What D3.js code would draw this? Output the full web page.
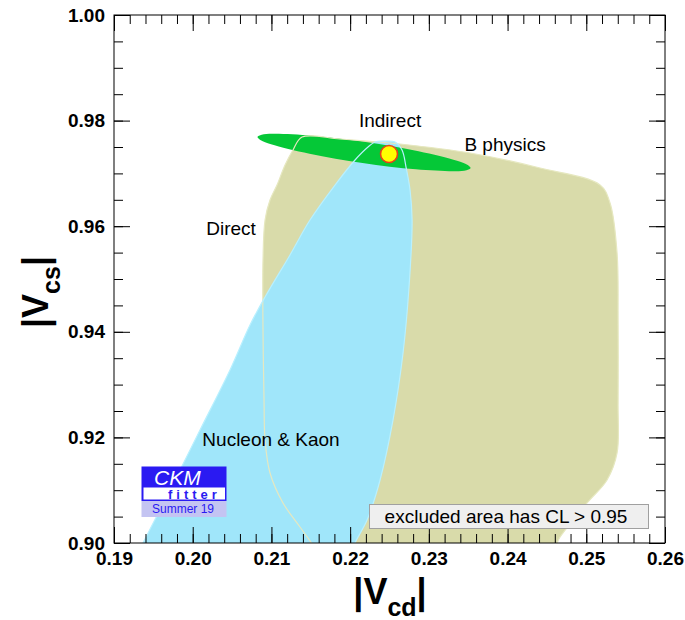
<!DOCTYPE html>
<html>
<head>
<meta charset="utf-8">
<script src="https://cdn.jsdelivr.net/npm/d3@7"></script>
<style>
  html, body { margin: 0; padding: 0; background: #fff; }
  svg { display: block; font-family: "Liberation Sans", Arial, Helvetica, sans-serif; }
</style>
</head>
<body>
<svg id="chart" width="685" height="620"></svg>
<script>
// Axis ticks
const xMajorTicks = [0.19, 0.20, 0.21, 0.22, 0.23, 0.24, 0.25, 0.26];
const yMajorTicks = [0.90, 0.92, 0.94, 0.96, 0.98, 1.00];

// 95% CL contours in the (|Vcd|, |Vcs|) plane
const bPhysics = [
  [0.21389, 0.97689], [0.21872, 0.97652], [0.22634, 0.97557], [0.23524, 0.97386],
  [0.24413, 0.97102], [0.25175, 0.96780], [0.25302, 0.96439], [0.25391, 0.95492],
  [0.25404, 0.94223], [0.25404, 0.92652], [0.25391, 0.91705], [0.25264, 0.91193],
  [0.25010, 0.90758], [0.24667, 0.90114], [0.24540, 0.89800], [0.21592, 0.89800],
  [0.21500, 0.90019], [0.21363, 0.90303], [0.21147, 0.90758], [0.20982, 0.91326],
  [0.20919, 0.91951], [0.20906, 0.92708], [0.20893, 0.94034], [0.20893, 0.95360],
  [0.20919, 0.96117], [0.20982, 0.96496], [0.21071, 0.96780], [0.21173, 0.97159],
  [0.21274, 0.97443]
];

const nucleonKaon = [
  [0.19300, 0.89800], [0.19368, 0.90000], [0.19712, 0.91004], [0.20093, 0.92140],
  [0.20474, 0.93277], [0.20728, 0.94129], [0.20919, 0.94659], [0.21236, 0.95455],
  [0.21490, 0.96117], [0.21808, 0.96780], [0.22062, 0.97254], [0.22227, 0.97500],
  [0.22316, 0.97595], [0.22443, 0.97610], [0.22570, 0.97595], [0.22659, 0.97443],
  [0.22710, 0.97121], [0.22761, 0.96686], [0.22787, 0.96117], [0.22748, 0.94848],
  [0.22672, 0.93598], [0.22545, 0.92330], [0.22380, 0.91193], [0.22215, 0.90436],
  [0.22062, 0.90000], [0.22020, 0.89800]
];

const indirect = [
  [0.20823, 0.97689], [0.20876, 0.97731], [0.21015, 0.97750], [0.21517, 0.97714],
  [0.22196, 0.97593], [0.22869, 0.97419], [0.23358, 0.97239], [0.23488, 0.97163],
  [0.23530, 0.97102], [0.23478, 0.97061], [0.23338, 0.97042], [0.22836, 0.97078],
  [0.22158, 0.97199], [0.21484, 0.97373], [0.20995, 0.97553], [0.20865, 0.97629]
];

const bestFit = [0.22494, 0.97367];

const regionLabels = [
  { text: "Indirect", x: 0.22507, y: 0.97879 },
  { text: "B physics", x: 0.23968, y: 0.97424 },
  { text: "Direct", x: 0.20487, y: 0.95833 },
  { text: "Nucleon & Kaon", x: 0.20995, y: 0.91837 }
];

const legendText = "excluded area has CL > 0.95";

const svg = d3.select("#chart");
const x = d3.scaleLinear().domain([0.19, 0.26]).range([114, 665]);
const y = d3.scaleLinear().domain([0.90, 1.00]).range([543, 15]);

const xMinorTicks = d3.range(0, 36).map(i => +(0.19 + i * 0.002).toFixed(4));
const yMinorTicks = d3.range(0, 21).map(i => +(0.90 + i * 0.005).toFixed(4));

svg.append("defs").append("clipPath").attr("id", "plot-clip")
  .append("rect").attr("x", 114).attr("y", 15).attr("width", 551).attr("height", 528);

const area = svg.append("g").attr("clip-path", "url(#plot-clip)");
const line = d3.line().x(d => x(d[0])).y(d => y(d[1])).curve(d3.curveCatmullRomClosed.alpha(0.5));

// Filled regions
area.append("path").attr("d", line(bPhysics)).attr("fill", "#d9dbaa");
area.append("path").attr("d", line(nucleonKaon)).attr("fill", "#a0e6fa");
area.append("path").attr("d", line(indirect)).attr("fill", "#05c837");

// Contour outlines drawn over the fills
area.append("path").attr("d", line(bPhysics)).attr("fill", "none")
  .attr("stroke", "#e6e8c0").attr("stroke-width", 1.2);
area.append("path").attr("d", line(nucleonKaon)).attr("fill", "none")
  .attr("stroke", "#b8f0ff").attr("stroke-width", 1.2);

// Global fit point
area.append("circle")
  .attr("cx", x(bestFit[0])).attr("cy", y(bestFit[1])).attr("r", 8.5)
  .attr("fill", "#ffff00").attr("stroke", "#e8401a").attr("stroke-width", 1.6);

// Region labels
svg.append("g").selectAll("text").data(regionLabels).join("text")
  .attr("x", d => x(d.x)).attr("y", d => y(d.y))
  .attr("text-anchor", "middle").attr("font-size", 19).attr("fill", "#000")
  .text(d => d.text);

// Axes: ticks point inward on all four sides
function styleAxis(g) {
  g.select(".domain").remove();
  g.selectAll("line").attr("stroke", "#000").attr("stroke-width", 1);
}
const fmt = d3.format(".2f");

svg.append("g").attr("transform", "translate(0,543)")
  .call(d3.axisBottom(x).tickValues(xMinorTicks).tickSize(-9).tickFormat(""))
  .call(styleAxis);
svg.append("g").attr("transform", "translate(0,543)")
  .call(d3.axisBottom(x).tickValues(xMajorTicks).tickSize(-16).tickPadding(9).tickFormat(fmt))
  .call(styleAxis)
  .call(g => g.selectAll("text").attr("font-size", 19).attr("font-weight", "bold")
    .attr("fill", "#000").attr("font-family", "Liberation Sans, Arial, sans-serif"));

svg.append("g").attr("transform", "translate(0,15)")
  .call(d3.axisTop(x).tickValues(xMinorTicks).tickSize(-9).tickFormat(""))
  .call(styleAxis);
svg.append("g").attr("transform", "translate(0,15)")
  .call(d3.axisTop(x).tickValues(xMajorTicks).tickSize(-16).tickFormat(""))
  .call(styleAxis);

svg.append("g").attr("transform", "translate(114,0)")
  .call(d3.axisLeft(y).tickValues(yMinorTicks).tickSize(-9).tickFormat(""))
  .call(styleAxis);
svg.append("g").attr("transform", "translate(114,0)")
  .call(d3.axisLeft(y).tickValues(yMajorTicks).tickSize(-16).tickPadding(9).tickFormat(fmt))
  .call(styleAxis)
  .call(g => g.selectAll("text").attr("font-size", 19).attr("font-weight", "bold")
    .attr("fill", "#000").attr("font-family", "Liberation Sans, Arial, sans-serif"));

svg.append("g").attr("transform", "translate(665,0)")
  .call(d3.axisRight(y).tickValues(yMinorTicks).tickSize(-9).tickFormat(""))
  .call(styleAxis);
svg.append("g").attr("transform", "translate(665,0)")
  .call(d3.axisRight(y).tickValues(yMajorTicks).tickSize(-16).tickFormat(""))
  .call(styleAxis);

// Frame
svg.append("rect").attr("x", 114).attr("y", 15).attr("width", 551).attr("height", 528)
  .attr("fill", "none").attr("stroke", "#000").attr("stroke-width", 1);

// Axis titles
const xTitle = svg.append("text").attr("x", 390).attr("y", 604)
  .attr("text-anchor", "middle").attr("font-weight", "bold").attr("font-size", 36);
xTitle.append("tspan").text("|V");
xTitle.append("tspan").attr("font-size", 25).attr("dy", 12).text("cd");
xTitle.append("tspan").attr("dy", -12).text("|");

const yTitle = svg.append("text").attr("transform", "translate(48,292) rotate(-90)")
  .attr("text-anchor", "middle").attr("font-weight", "bold").attr("font-size", 36);
yTitle.append("tspan").text("|V");
yTitle.append("tspan").attr("font-size", 25).attr("dy", 12).text("cs");
yTitle.append("tspan").attr("dy", -12).text("|");

// Confidence level note
const note = svg.append("g");
note.append("rect").attr("x", 369.5).attr("y", 504.5).attr("width", 279).attr("height", 24)
  .attr("fill", "#efefef").attr("stroke", "#a0a0a0").attr("stroke-width", 1);
note.append("text").attr("x", 506).attr("y", 523).attr("text-anchor", "middle")
  .attr("font-size", 19).attr("fill", "#000").text(legendText);

// CKMfitter badge
const badge = svg.append("g");
badge.append("rect").attr("x", 141.5).attr("y", 466.5).attr("width", 85).attr("height", 34.5).attr("fill", "#2a1af2");
badge.append("rect").attr("x", 143.5).attr("y", 487.5).attr("width", 81.5).attr("height", 12).attr("fill", "#fff");
badge.append("rect").attr("x", 141.5).attr("y", 501).attr("width", 85).attr("height", 16).attr("fill", "#c4c4f2");
badge.append("text").attr("x", 154).attr("y", 484.5).attr("font-size", 21).attr("font-style", "italic")
  .attr("fill", "#fff").text("CKM");
badge.append("text").attr("x", 168).attr("y", 498.5).attr("font-size", 13).attr("font-weight", "bold")
  .attr("letter-spacing", 4).attr("fill", "#2a1af2").text("fitter");
badge.append("text").attr("x", 183).attr("y", 513).attr("text-anchor", "middle").attr("font-size", 12)
  .attr("fill", "#2a1af2").text("Summer 19");
</script>
</body>
</html>
